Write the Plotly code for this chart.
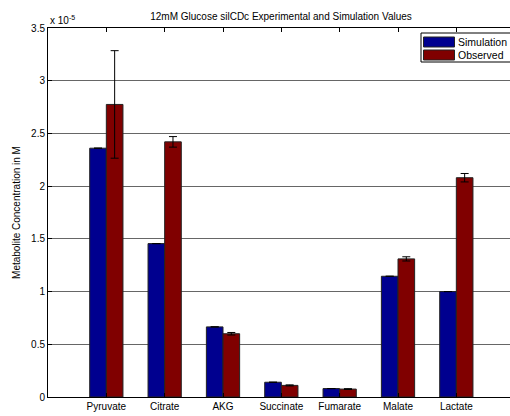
import plotly.graph_objects as go

categories = ["Pyruvate", "Citrate", "AKG", "Succinate", "Fumarate", "Malate", "Lactate"]
simulation = [2.36e-5, 1.455e-5, 0.665e-5, 0.14e-5, 0.08e-5, 1.145e-5, 1.0e-5]
observed = [2.775e-5, 2.42e-5, 0.60e-5, 0.11e-5, 0.075e-5, 1.31e-5, 2.08e-5]
observed_err = [0.51e-5, 0.05e-5, 0.012e-5, 0.005e-5, 0.004e-5, 0.02e-5, 0.04e-5]
simulation_err = [0, 0, 0, 0, 0, 0, 0]
series_names = ["Simulation", "Observed"]
series_colors = ["#00008F", "#800000"]
ytick_vals = [0, 0.5e-5, 1e-5, 1.5e-5, 2e-5, 2.5e-5, 3e-5, 3.5e-5]
ytick_text = ["0", "0.5", "1", "1.5", "2", "2.5", "3", "3.5"]

xpos = list(range(1, len(categories) + 1))
font = "Liberation Sans, Arial, sans-serif"

W, H = 510, 416
ML, MT, MB, MR = 48, 28, 19, 0
PW, PH = W - ML - MR, H - MT - MB


def px(xw):
    return (xw - ML) / PW


def py(yw):
    return (H - MB - yw) / PH


fig = go.Figure()
for name, vals, errs, col in [
    (series_names[0], simulation, simulation_err, series_colors[0]),
    (series_names[1], observed, observed_err, series_colors[1]),
]:
    fig.add_trace(go.Bar(
        x=xpos, y=vals, name=name, showlegend=False,
        marker=dict(color=col, line=dict(color="#222222", width=1)),
        error_y=dict(type="data", array=errs, color="black", thickness=1, width=4),
    ))

# custom MATLAB-style legend box
shapes = [dict(type="rect", xref="paper", yref="paper",
               x0=px(421), x1=px(530), y0=py(62), y1=py(33),
               line=dict(color="black", width=1), fillcolor="white", layer="above")]
annotations = []
for i, (name, col) in enumerate(zip(series_names, series_colors)):
    y0, y1 = 37 + 13 * i, 47 + 13 * i
    shapes.append(dict(type="rect", xref="paper", yref="paper",
                       x0=px(423.5), x1=px(454.5), y0=py(y1), y1=py(y0),
                       line=dict(color="#222222", width=1), fillcolor=col, layer="above"))
    annotations.append(dict(xref="paper", yref="paper", x=px(456), y=py((y0 + y1) / 2),
                            xanchor="left", yanchor="middle", text=name, showarrow=False,
                            font=dict(size=10.5, family=font, color="black")))

annotations.append(dict(
    xref="paper", yref="paper", x=0, y=1, xanchor="left", yanchor="bottom",
    text="x 10<sup>-5</sup>", showarrow=False, font=dict(size=10, family=font),
))

fig.update_layout(
    width=W, height=H,
    margin=dict(l=ML, r=MR, t=MT, b=MB, pad=0),
    paper_bgcolor="white", plot_bgcolor="white",
    barmode="group", bargap=0.43, bargroupgap=0,
    font=dict(family=font, size=10, color="black"),
    title=dict(text="12mM Glucose silCDc Experimental and Simulation Values",
               xref="paper", x=px(281), xanchor="center",
               y=1 - 16 / H, yanchor="middle",
               font=dict(size=10, family=font)),
    showlegend=False,
    hovermode=False,
    shapes=shapes,
    annotations=annotations,
)
fig.update_xaxes(
    range=[0, 7.92], tickvals=xpos, ticktext=categories,
    showline=True, linecolor="black", linewidth=1, mirror="ticks",
    ticks="inside", ticklen=4, tickcolor="black", showgrid=False, zeroline=False,
)
fig.update_yaxes(
    range=[0, 3.5e-5], tickvals=ytick_vals, ticktext=ytick_text,
    showline=True, linecolor="black", linewidth=1,
    ticks="inside", ticklen=4, tickcolor="black",
    showgrid=True, gridcolor="#666666", gridwidth=1, zeroline=False,
    title=dict(text="Metabolite Concentration in M", font=dict(size=10, family=font), standoff=8),
)
fig.write_html(
    "out.html",
    config={"displayModeBar": False, "staticPlot": True},
    post_script="document.body.style.margin='0';document.body.style.overflow='hidden';",
)
